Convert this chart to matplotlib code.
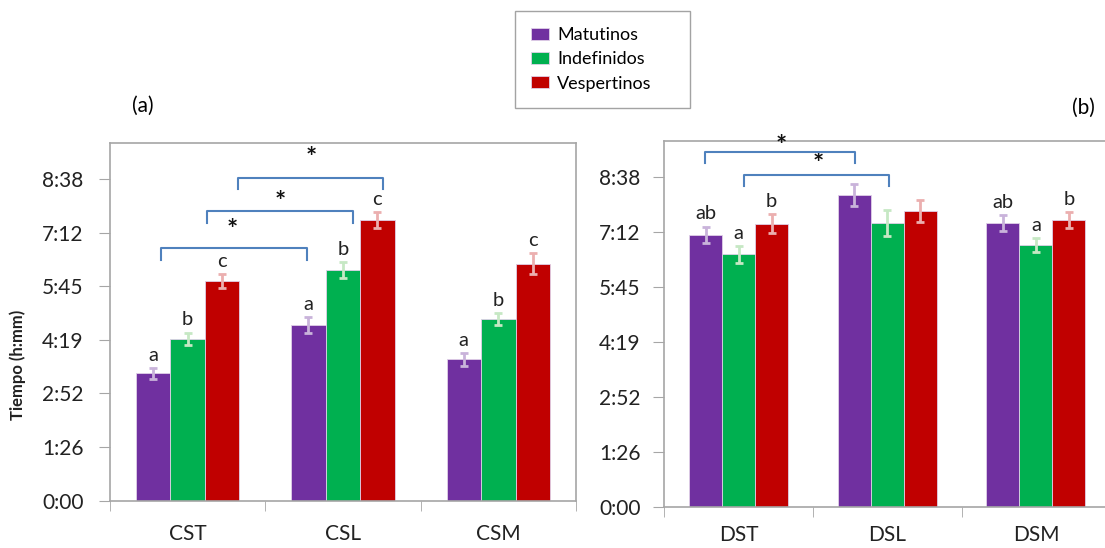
import math
import matplotlib
matplotlib.use("Agg")
import matplotlib.pyplot as plt
from matplotlib.ticker import FuncFormatter, FixedLocator

plt.rcParams['font.family'] = ['Lato', 'DejaVu Sans']

# datos (fracción de día)
grupos = ['Matutinos', 'Indefinidos', 'Vespertinos']
colores = ['#7030A0', '#00B050', '#C00000']
colores_err = ['#C9B3DA', '#C6E8C4', '#EBAFAF']

cats_a = ['CST', 'CSL', 'CSM']
media_a = {
    'Matutinos':   [0.1426, 0.1967, 0.1583],
    'Indefinidos': [0.1813, 0.2579, 0.2034],
    'Vespertinos': [0.2456, 0.3139, 0.2653],
}
err_a = {
    'Matutinos':   [0.0062, 0.0090, 0.0070],
    'Indefinidos': [0.0069, 0.0091, 0.0065],
    'Vespertinos': [0.0076, 0.0091, 0.0116],
}
letras_a = {
    'Matutinos':   ['a', 'a', 'a'],
    'Indefinidos': ['b', 'b', 'b'],
    'Vespertinos': ['c', 'c', 'c'],
}

cats_b = ['DST', 'DSL', 'DSM']
media_b = {
    'Matutinos':   [0.2973, 0.3411, 0.3097],
    'Indefinidos': [0.2758, 0.3104, 0.2860],
    'Vespertinos': [0.3093, 0.3232, 0.3134],
}
err_b = {
    'Matutinos':   [0.0088, 0.0120, 0.0086],
    'Indefinidos': [0.0091, 0.0142, 0.0073],
    'Vespertinos': [0.0104, 0.0119, 0.0088],
}
letras_b = {
    'Matutinos':   ['ab', '', 'ab'],
    'Indefinidos': ['a', '', 'a'],
    'Vespertinos': ['b', '', 'b'],
}

# corchetes de significancia: (x0, x1, y_arriba, y_patas, x_estrella, y_estrella)
corchetes_a = [
    (-0.172, 0.768, 0.2832, 0.2694, 0.29, 0.303),
    (0.123, 1.063, 0.3243, 0.3105, 0.594, 0.3347),
    (0.322, 1.261, 0.3609, 0.3486, 0.798, 0.3833),
]
corchetes_b = [
    (-0.224, 0.785, 0.3874, 0.3758, 0.285, 0.394),
    (0.034, 1.013, 0.3630, 0.3510, 0.538, 0.3747),
]

yticks = [0, 0.06, 0.12, 0.18, 0.24, 0.30, 0.36]
ancho = 0.222
gris = '#A6A6A6'


def hmm(v, pos):
    minutos = math.floor(v * 24 * 60 + 1e-6)
    return f"{minutos // 60}:{minutos % 60:02d}"


def panel(ax, cats, medias, errs, letras, corchetes, ylab_pad, xlab_pad):
    x = list(range(len(cats)))
    barras = []
    for i, g in enumerate(grupos):
        xs = [xi + (i - 1) * ancho for xi in x]
        b = ax.bar(xs, medias[g], ancho, color=colores[i], edgecolor='#E0D0E8',
                   linewidth=0.6, label=g, zorder=2)
        barras.append(b)
        ax.errorbar(xs, medias[g], yerr=errs[g], fmt='none', ecolor=colores_err[i],
                    elinewidth=2, capsize=3, capthick=2, zorder=3)
        for xi, m, e, t in zip(xs, medias[g], errs[g], letras[g]):
            if t:
                ax.annotate(t, (xi, m + e), xytext=(0, 3), textcoords='offset points',
                            ha='center', va='bottom', fontsize=14.5, color='#222222')
    for x0, x1, yt, yb, xs_, ys_ in corchetes:
        ax.plot([x0, x0, x1, x1], [yb, yt, yt, yb], color='#4F81BD', lw=1.5,
                solid_joinstyle='round', zorder=4, clip_on=False)
        ax.text(xs_, ys_, '*', ha='center', va='center', fontsize=19,
                fontweight='bold', color='#111111')
    ax.set_xlim(-0.5, len(cats) - 0.5)
    ax.set_ylim(0, 0.4)
    ax.yaxis.set_major_locator(FixedLocator(yticks))
    ax.yaxis.set_major_formatter(FuncFormatter(hmm))
    ax.tick_params(axis='y', labelsize=15, length=8, color=gris, pad=ylab_pad,
                   labelcolor='#222222')
    ax.set_xticks(x)
    ax.set_xticklabels(cats)
    ax.set_xticks([-0.5, 0.5, 1.5, 2.5], minor=True)
    ax.tick_params(axis='x', which='major', length=0, labelsize=15, pad=xlab_pad,
                   labelcolor='#222222')
    ax.tick_params(axis='x', which='minor', length=7, color=gris, direction='out')
    for s in ax.spines.values():
        s.set_color(gris)
        s.set_linewidth(1.2)
    return barras


fig = plt.figure(figsize=(11.05, 5.48), dpi=100)
ax1 = fig.add_axes([0.0995, 0.0863, 0.4217, 0.6522])
ax2 = fig.add_axes([0.6012, 0.0754, 0.4036, 0.6679])

barras = panel(ax1, cats_a, media_a, err_a, letras_a, corchetes_a, 11, 17)
panel(ax2, cats_b, media_b, err_b, letras_b, corchetes_b, 9, 13)

fig.text(18 / 1105, 1 - 365 / 548, 'Tiempo (h:mm)', rotation=90, ha='center',
         va='center', fontsize=12, fontweight='bold', color='#222222')
fig.text(143 / 1105, 1 - 106 / 548, '(a)', ha='center', va='center', fontsize=15)
fig.text(1083 / 1105, 1 - 108 / 548, '(b)', ha='center', va='center', fontsize=15)

leg = fig.legend(handles=barras, labels=grupos, loc='upper left',
                 bbox_to_anchor=(515 / 1105, 1 - 11 / 548, 175 / 1105, 0.0),
                 mode='expand', frameon=True,
                 fancybox=False, edgecolor='#8C8C8C', fontsize=13,
                 handlelength=1.0, handleheight=0.67, handletextpad=0.45,
                 borderpad=0.9, labelspacing=0.45, borderaxespad=0)
leg.get_frame().set_linewidth(1.0)

fig.savefig('out.png', dpi=100)
